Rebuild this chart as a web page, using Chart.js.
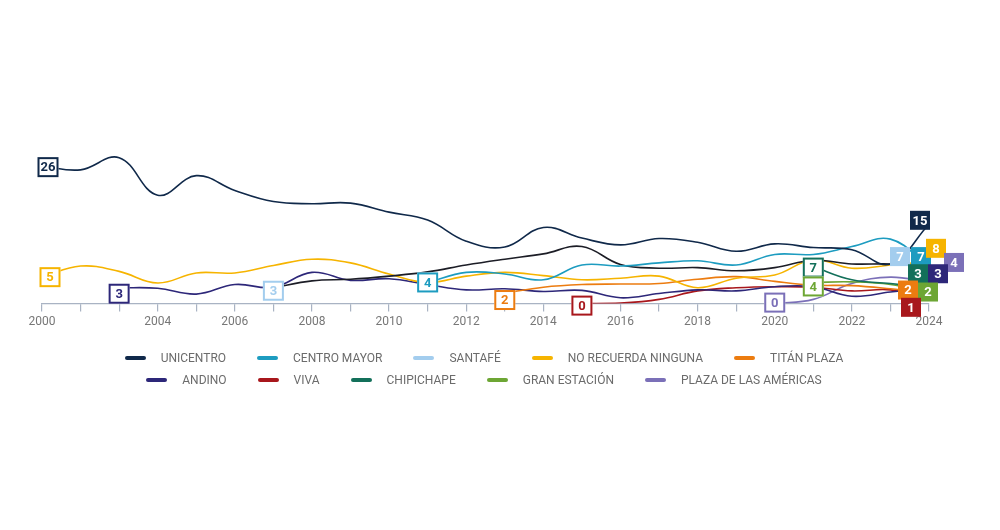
<!DOCTYPE html>
<html>
<head>
<meta charset="utf-8">
<script src="https://cdn.jsdelivr.net/npm/chart.js@4.4.1/dist/chart.umd.min.js"></script>
<style>
  body { margin: 0; background: #fff; }
  #wrap { position: relative; width: 1000px; height: 530px; }
  #legend { position: absolute; left: 0; top: 347px; width: 968px;
    font: 12px "Roboto", sans-serif; color: #6b6b6b; }
  .row { display: flex; justify-content: center; gap: 31px; height: 22px; align-items: center; }
  .item { display: flex; align-items: center; }
  .sw { width: 21px; height: 4px; border-radius: 2px; margin-right: 15px; }
</style>
</head>
<body>
<div id="wrap">
  <canvas id="chart" width="1000" height="530"></canvas>
  <div id="legend"></div>
</div>
<script>
// -----------------------------
// Data
// -----------------------------
const categories = ["2000", "2002", "2003", "2004", "2005", "2006", "2007", "2008", "2009", "2010",
  "2011", "2012", "2013", "2014", "2015", "2016", "2017", "2018", "2019", "2020",
  "2021", "2022", "2023", "2024"];
const tickLabels = ["2000", "", "", "2004", "", "2006", "", "2008", "", "2010",
  "", "2012", "", "2014", "", "2016", "", "2018", "", "2020",
  "", "2022", "", "2024"];

const unicentro = [26, 25.3, 27.6, 20.5, 24.2, 21.4, 19.3, 18.9, 19.0, 17.3, 15.8, 11.8,
  10.7, 14.4, 12.4, 11.1, 12.3, 11.6, 9.9, 11.3, 10.6, 10.2, 7.5, 15];
const centroMayor = [null, null, null, null, null, null, null, null, null, null,
  4, 5.9, 5.6, 4.5, 7.3, 7.1, 7.7, 8.1, 7.3, 9.3, 9.3, 10.8, 12.2, 7];
const santafe = [null, null, null, null, null, null,
  3, 4.3, 4.6, 5.2, 6, 7.3, 8.4, 9.4, 10.8, 7.4, 6.7, 6.8, 6.2, 6.8, 8.2, 7.5, 7.5, 7];
const noRecuerda = [5, 7.1, 6.1, 3.9, 5.8, 5.8, 7.2, 8.4, 7.7, 5.6, 4.0, 5.2,
  5.9, 5.3, 4.5, 4.8, 5.2, 3.0, 4.8, 5.4, 8.3, 6.7, 7.3, 8];
const titanPlaza = [null, null, null, null, null, null, null, null, null, null, null, null,
  2, 3.1, 3.6, 3.7, 3.8, 4.6, 5.1, 4.2, 3.5, 3.4, 2.8, 2];
const andino = [null, null,
  3, 2.9, 1.8, 3.6, 3.1, 5.9, 4.4, 4.7, 3.6, 2.6, 2.8, 2.3, 2.5, 1.1, 1.9, 2.6, 2.4, 3.2, 3.2, 1.4, 2.2, 3];
const viva = [null, null, null, null, null, null, null, null, null, null, null, null, null, null,
  0, 0.1, 0.8, 2.4, 3.0, 3.2, 3.1, 2.4, 2.6, 1];
const chipichape = [null, null, null, null, null, null, null, null, null, null,
  null, null, null, null, null, null, null, null, null, null, 7, 4.5, 3.8, 3];
const granEstacion = [null, null, null, null, null, null, null, null, null, null,
  null, null, null, null, null, null, null, null, null, null, 4, 4.1, 3.6, 2];
const plazaAmericas = [null, null, null, null, null, null, null, null, null, null,
  null, null, null, null, null, null, null, null, null, 0, 0.8, 3.8, 5.0, 4];

// -----------------------------
// Series setup
// -----------------------------
// start/end: pixel nudges of the value boxes from the point they label
const series = [
  { label: "UNICENTRO", data: unicentro, color: "#10294a", box: "#10294a", start: [6, 1], end: [-9, -4] },
  { label: "CENTRO MAYOR", data: centroMayor, color: "#1d9cc0", box: "#1d9cc0", start: [0, 0], end: [-8, -10] },
  { label: "SANTAFÉ", data: santafe, color: "#1c1d26", box: "#a3cdee", start: [0, 3], end: [-29, -10] },
  { label: "NO RECUERDA NINGUNA", data: noRecuerda, color: "#f6b400", box: "#f6b400", start: [8, 0], end: [7, -13] },
  { label: "TITÁN PLAZA", data: titanPlaza, color: "#ec7c10", box: "#ec7c10", start: [0, 7], end: [-21, -3] },
  { label: "ANDINO", data: andino, color: "#2d2779", box: "#2d2779", start: [0, 6], end: [9, -14] },
  { label: "VIVA", data: viva, color: "#a8171c", box: "#a8171c", start: [0, 2], end: [-18, 9] },
  { label: "CHIPICHAPE", data: chipichape, color: "#13705a", box: "#13705a", start: [0, 1], end: [-11, -14] },
  { label: "GRAN ESTACIÓN", data: granEstacion, color: "#6da634", box: "#6da634", start: [0, 4], end: [-1, -1] },
  { label: "PLAZA DE LAS AMÉRICAS", data: plazaAmericas, color: "#7b70b8", box: "#7b70b8", start: [0, -1], end: [25, -20] }
];
// drawing order of the stacked end boxes
const endOrder = ["SANTAFÉ", "CENTRO MAYOR", "NO RECUERDA NINGUNA", "PLAZA DE LAS AMÉRICAS", "UNICENTRO",
  "CHIPICHAPE", "ANDINO", "TITÁN PLAZA", "GRAN ESTACIÓN", "VIVA"];

const boxFont = 'bold 13px "Roboto", sans-serif';

function drawBox(ctx, cx, cy, text, color, filled) {
  ctx.save();
  if (filled) {
    ctx.fillStyle = color;
    ctx.fillRect(cx - 10, cy - 9.5, 20, 19);
    ctx.fillStyle = "#fff";
  } else {
    ctx.fillStyle = "#fff";
    ctx.fillRect(cx - 10.5, cy - 10, 21, 20);
    ctx.strokeStyle = color;
    ctx.lineWidth = 2;
    ctx.strokeRect(cx - 9.5, cy - 9, 19, 18);
    ctx.fillStyle = color;
  }
  ctx.font = boxFont;
  ctx.textAlign = "center";
  ctx.textBaseline = "middle";
  ctx.fillText(text, cx, cy + 1);
  ctx.restore();
}

const boxLabels = {
  id: "boxLabels",
  afterDatasetsDraw(chart) {
    const ctx = chart.ctx;
    chart.data.datasets.forEach((ds, i) => {
      const meta = chart.getDatasetMeta(i);
      const first = ds.data.findIndex(v => v !== null);
      const pt = meta.data[first];
      drawBox(ctx, pt.x + ds.startNudge[0], pt.y + ds.startNudge[1], Math.round(ds.data[first]), ds.boxColor, false);
    });
    endOrder.forEach(name => {
      const i = chart.data.datasets.findIndex(d => d.label === name);
      const ds = chart.data.datasets[i];
      const last = ds.data.length - 1;
      const pt = chart.getDatasetMeta(i).data[last];
      drawBox(ctx, pt.x + ds.endNudge[0], pt.y + ds.endNudge[1], Math.round(ds.data[last]), ds.boxColor, true);
    });
  }
};

// -----------------------------
// Chart
// -----------------------------
const ctx = document.getElementById("chart").getContext("2d");

new Chart(ctx, {
  type: "line",
  data: {
    labels: categories,
    datasets: series.map(s => ({
      label: s.label,
      data: s.data,
      borderColor: s.color,
      borderWidth: 1.6,
      pointRadius: 0,
      tension: 0.4,
      fill: false,
      boxColor: s.box,
      startNudge: s.start,
      endNudge: s.end
    }))
  },
  options: {
    responsive: false,
    animation: false,
    layout: { padding: { left: 42, right: 71, top: 145, bottom: 198 } },
    plugins: {
      legend: { display: false },
      tooltip: { enabled: false }
    },
    scales: {
      x: {
        offset: false,
        grid: { drawOnChartArea: false, drawTicks: true, tickLength: 8, color: "#a9b3c3", lineWidth: 1.2 },
        border: { display: true, color: "#a9b3c3", width: 1.2 },
        ticks: {
          autoSkip: false,
          maxRotation: 0,
          padding: 3,
          color: "#777",
          font: { family: '"Roboto", sans-serif', size: 12 },
          callback: (value, index) => tickLabels[index]
        }
      },
      y: { display: false, min: 0, max: 30 }
    }
  },
  plugins: [boxLabels]
});

// -----------------------------
// Legend (two rows)
// -----------------------------
const legendRows = [
  ["UNICENTRO", "CENTRO MAYOR", "SANTAFÉ", "NO RECUERDA NINGUNA", "TITÁN PLAZA"],
  ["ANDINO", "VIVA", "CHIPICHAPE", "GRAN ESTACIÓN", "PLAZA DE LAS AMÉRICAS"]
];
const legendEl = document.getElementById("legend");
legendRows.forEach(names => {
  const row = document.createElement("div");
  row.className = "row";
  names.forEach(name => {
    const s = series.find(x => x.label === name);
    const item = document.createElement("div");
    item.className = "item";
    const sw = document.createElement("span");
    sw.className = "sw";
    sw.style.background = s.box;
    const txt = document.createElement("span");
    txt.textContent = name;
    item.appendChild(sw);
    item.appendChild(txt);
    row.appendChild(item);
  });
  legendEl.appendChild(row);
});
</script>
</body>
</html>
